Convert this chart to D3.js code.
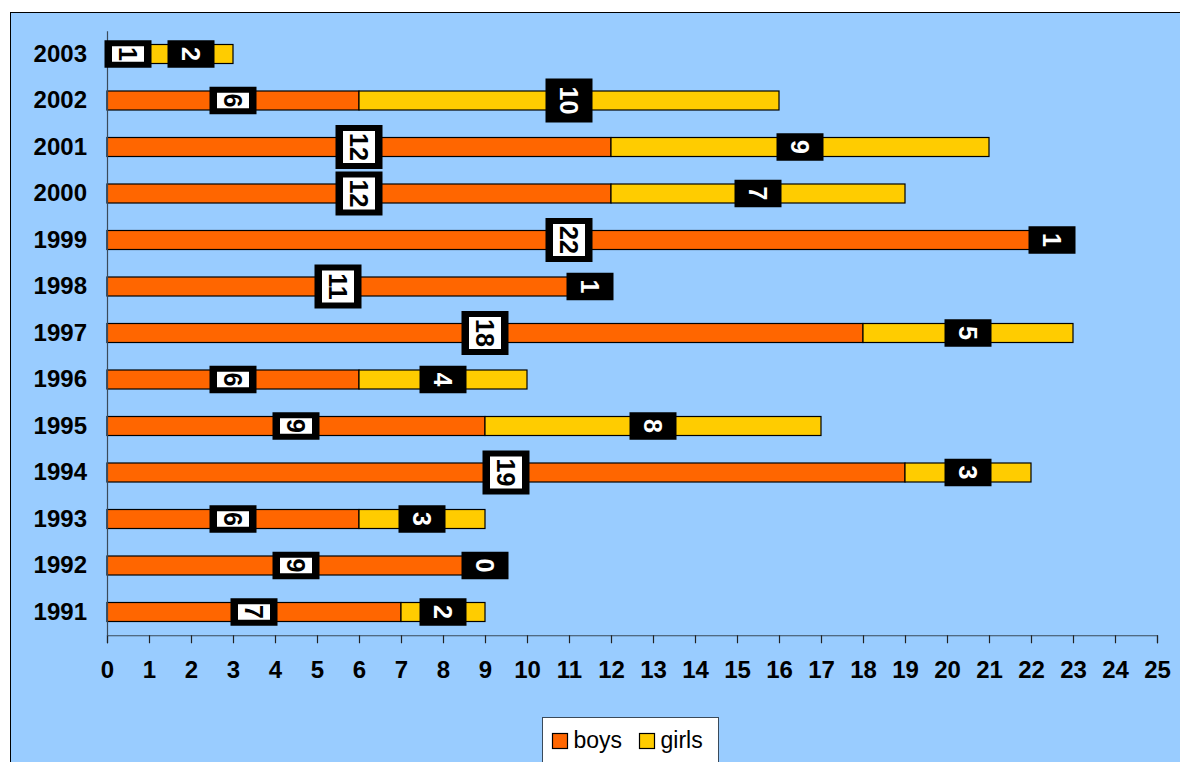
<!DOCTYPE html>
<html>
<head>
<meta charset="utf-8">
<script src="https://cdn.jsdelivr.net/npm/d3@7"></script>
<style>
  html, body { margin: 0; padding: 0; background: #ffffff; }
  svg { display: block; }
  text { font-family: Arial, "Liberation Sans", sans-serif; }
</style>
</head>
<body>
<svg id="chart" width="1180" height="762"></svg>
<script>
// Yearly counts, top row first
const years = ["2003", "2002", "2001", "2000", "1999", "1998", "1997", "1996", "1995", "1994", "1993", "1992", "1991"];
const boys  = [1, 6, 12, 12, 22, 11, 18, 6, 9, 19, 6, 9, 7];
const girls = [2, 10, 9, 7, 1, 1, 5, 4, 8, 3, 3, 0, 2];
const seriesNames = ["boys", "girls"];
const seriesColors = ["#FF6600", "#FFCC00"];
const xTicks = d3.range(0, 26);

const svg = d3.select("#chart");

// chart area frame
svg.append("rect")
  .attr("x", 10.5).attr("y", 12.5)
  .attr("width", 1200).attr("height", 800)
  .attr("fill", "#99CCFF").attr("stroke", "#000").attr("stroke-width", 1);

const plot = { left: 107, right: 1157, top: 30.75, bottom: 635.25 };

const x = d3.scaleLinear().domain([0, 25]).range([plot.left, plot.right]);
const y = d3.scaleBand().domain(years).range([plot.top, plot.bottom]).paddingInner(0).paddingOuter(0);

const rows = years.map((yr, i) => ({ year: yr, boys: boys[i], girls: girls[i] }));
const stack = d3.stack().keys(seriesNames)(rows);

const barH = 19;

// bars
const layers = svg.append("g").selectAll("g")
  .data(stack).join("g")
  .attr("fill", (d, i) => seriesColors[i]);

layers.selectAll("rect")
  .data(d => d.filter(p => p[1] - p[0] > 0))
  .join("rect")
  .attr("x", p => x(p[0]))
  .attr("y", p => y(p.data.year) + y.bandwidth() / 2 - barH / 2)
  .attr("width", p => x(p[1]) - x(p[0]))
  .attr("height", barH)
  .attr("stroke", "#000")
  .attr("stroke-width", 1.2);

// value axis
const xAxis = svg.append("g")
  .attr("transform", `translate(0,${plot.bottom})`)
  .call(d3.axisBottom(x).tickValues(xTicks).tickSize(8).tickPadding(18).tickFormat(d3.format("d")));
xAxis.select(".domain").attr("stroke", "#3a4a5a").attr("stroke-width", 1.2);
xAxis.selectAll(".tick line").attr("stroke", "#222").attr("stroke-width", 1.2);
xAxis.selectAll(".tick text")
  .attr("font-size", 24).attr("font-weight", "bold").attr("fill", "#000")
  .attr("font-family", "Arial, 'Liberation Sans', sans-serif");

// category axis
const yAxis = svg.append("g")
  .attr("transform", `translate(${plot.left},0)`)
  .call(d3.axisLeft(y).tickSize(0).tickPadding(20));
yAxis.select(".domain").attr("stroke", "#3a4a5a").attr("stroke-width", 1.2);
yAxis.selectAll(".tick text")
  .attr("font-size", 24).attr("font-weight", "bold").attr("fill", "#000")
  .attr("font-family", "Arial, 'Liberation Sans', sans-serif");

// value labels, rotated, in black boxes
const labels = [];
stack.forEach((layer, si) => {
  layer.forEach(p => {
    labels.push({
      series: si,
      value: p[1] - p[0],
      cx: x((p[0] + p[1]) / 2),
      cy: y(p.data.year) + y.bandwidth() / 2
    });
  });
});

const lg = svg.append("g").selectAll("g")
  .data(labels).join("g")
  .attr("transform", d => `translate(${d.cx},${d.cy})`);

const boxW = 47;
const boxH = d => String(d.value).length * 16.5 + 11;

lg.append("rect")
  .attr("x", -boxW / 2)
  .attr("y", d => -boxH(d) / 2)
  .attr("width", boxW)
  .attr("height", d => boxH(d))
  .attr("fill", "#000");

lg.filter(d => d.series === 0).append("rect")
  .attr("x", -16)
  .attr("y", d => -boxH(d) / 2 + 6)
  .attr("width", 32)
  .attr("height", d => boxH(d) - 12)
  .attr("fill", "#fff");

lg.append("text")
  .attr("transform", "rotate(90)")
  .attr("text-anchor", "middle")
  .attr("dy", "0.36em")
  .attr("font-size", 25)
  .attr("font-weight", "bold")
  .attr("fill", d => d.series === 0 ? "#000" : "#fff")
  .text(d => d.value);

// legend
const legend = svg.append("g").attr("transform", "translate(542.5,717.5)");
legend.append("rect")
  .attr("width", 176).attr("height", 70)
  .attr("fill", "#fff").attr("stroke", "#3a4a5a").attr("stroke-width", 1);
const items = legend.selectAll("g.item")
  .data(seriesNames).join("g").attr("class", "item")
  .attr("transform", (d, i) => `translate(${i === 0 ? 10 : 97},16)`);
items.append("rect")
  .attr("width", 15).attr("height", 15)
  .attr("fill", (d, i) => seriesColors[i])
  .attr("stroke", "#000").attr("stroke-width", 1.2);
items.append("text")
  .attr("x", 21).attr("y", 14)
  .attr("font-size", 23)
  .attr("fill", "#000")
  .text(d => d);
</script>
</body>
</html>
